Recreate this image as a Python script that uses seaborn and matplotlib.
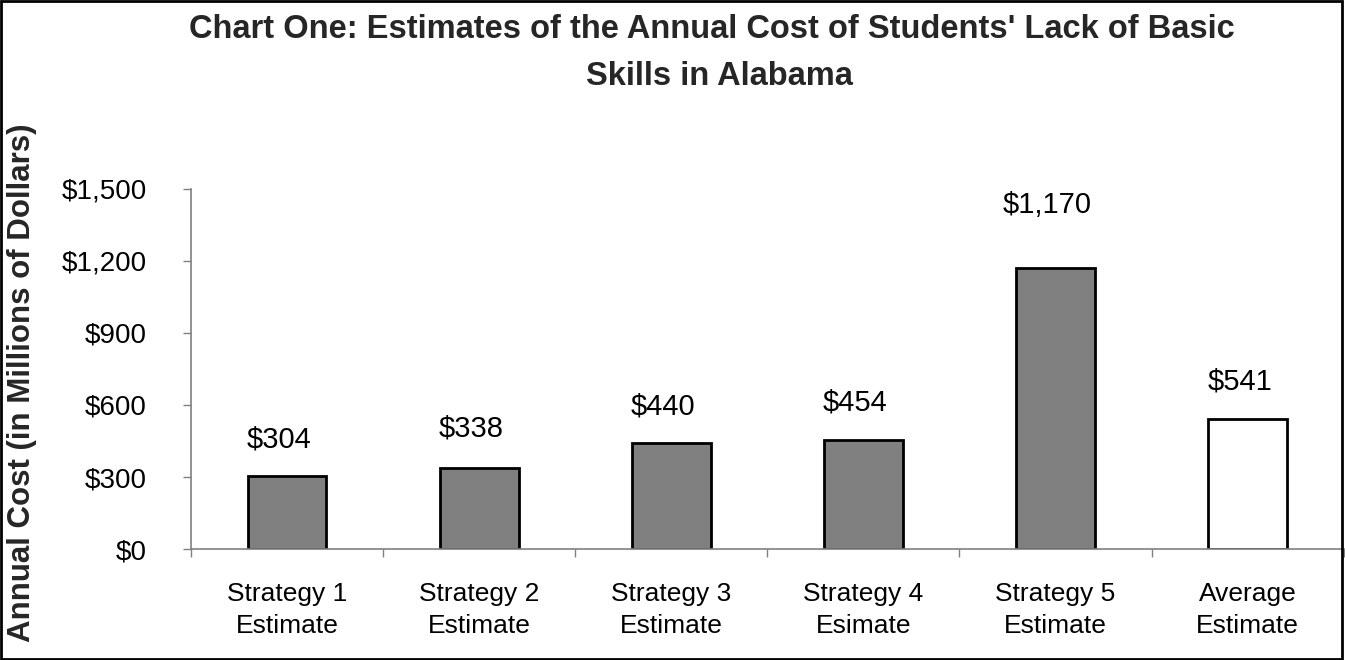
import matplotlib
matplotlib.use("Agg")
import matplotlib.pyplot as plt
import seaborn as sns
import numpy as np
from matplotlib.patches import Rectangle

categories = ["Strategy 1\nEstimate", "Strategy 2\nEstimate", "Strategy 3\nEstimate",
              "Strategy 4\nEsimate", "Strategy 5\nEstimate", "Average\nEstimate"]
values = [304, 338, 440, 454, 1170, 541]
bar_labels = ["$304", "$338", "$440", "$454", "$1,170", "$541"]
y_ticks = [0, 300, 600, 900, 1200, 1500]
y_tick_labels = ["$0", "$300", "$600", "$900", "$1,200", "$1,500"]
bar_colors = ["#808080", "#808080", "#808080", "#808080", "#808080", "#FFFFFF"]

sns.set_style("white")
plt.rcParams['font.family'] = ['Liberation Sans', 'DejaVu Sans']

fig = plt.figure(figsize=(13.45, 6.6), dpi=100)
ax = fig.add_axes([0.142, 0.168, 0.857, 0.546])

sns.barplot(x=categories, y=values, hue=categories, palette=bar_colors, legend=False,
            edgecolor="black", linewidth=2, width=0.41, ax=ax, saturation=1)

ax.set_ylim(0, 1500)
ax.set_xlim(-0.5, len(categories) - 0.5)
ax.set_yticks(y_ticks)
ax.set_yticklabels(y_tick_labels, fontsize=20)
ax.set_xticks(range(len(categories)))
ax.set_xticklabels(categories, fontsize=19, linespacing=1.38)
ax.set_xlabel("")
ax.set_ylabel("")

# ticks: y outward, x at category boundaries
ax.tick_params(axis="y", which="major", direction="out", length=6, width=1,
               color="#808080", left=True, pad=26, labelcolor="black")
ax.tick_params(axis="x", which="major", length=0, pad=24, labelcolor="black")
ax.set_xticks(np.arange(-0.5, len(categories) + 0.5, 1), minor=True)
ax.tick_params(axis="x", which="minor", direction="out", length=6, width=1,
               color="#808080", bottom=True)

for s in ["top", "right"]:
    ax.spines[s].set_visible(False)
for s in ["left", "bottom"]:
    ax.spines[s].set_color("#808080")
    ax.spines[s].set_linewidth(1.2)

# value labels: baseline offset in pixels above the bar top
offsets_px = [29, 31, 29, 30, 55, 30]
for i, (v, lab) in enumerate(zip(values, bar_labels)):
    ax.annotate(lab, xy=(i, v), xytext=(-5.8, offsets_px[i] * 0.72), textcoords="offset points",
                ha="center", va="baseline", fontsize=21, color="black")

fig.text(0.529, 1 - 38 / 660, "Chart One: Estimates of the Annual Cost of Students' Lack of Basic",
         ha="center", va="baseline", fontsize=23.5, fontweight="bold")
fig.text(0.535, 1 - 85 / 660, "Skills in Alabama",
         ha="center", va="baseline", fontsize=23.5, fontweight="bold")
fig.text(0.016, 0.42, "Annual Cost (in Millions of Dollars)", rotation=90,
         ha="center", va="center", fontsize=22.5, fontweight="bold")

fig.patches.append(Rectangle((0.001, 0.002), 0.997, 0.996, transform=fig.transFigure,
                             fill=False, edgecolor="black", linewidth=2))

fig.savefig("out.png", dpi=100)
